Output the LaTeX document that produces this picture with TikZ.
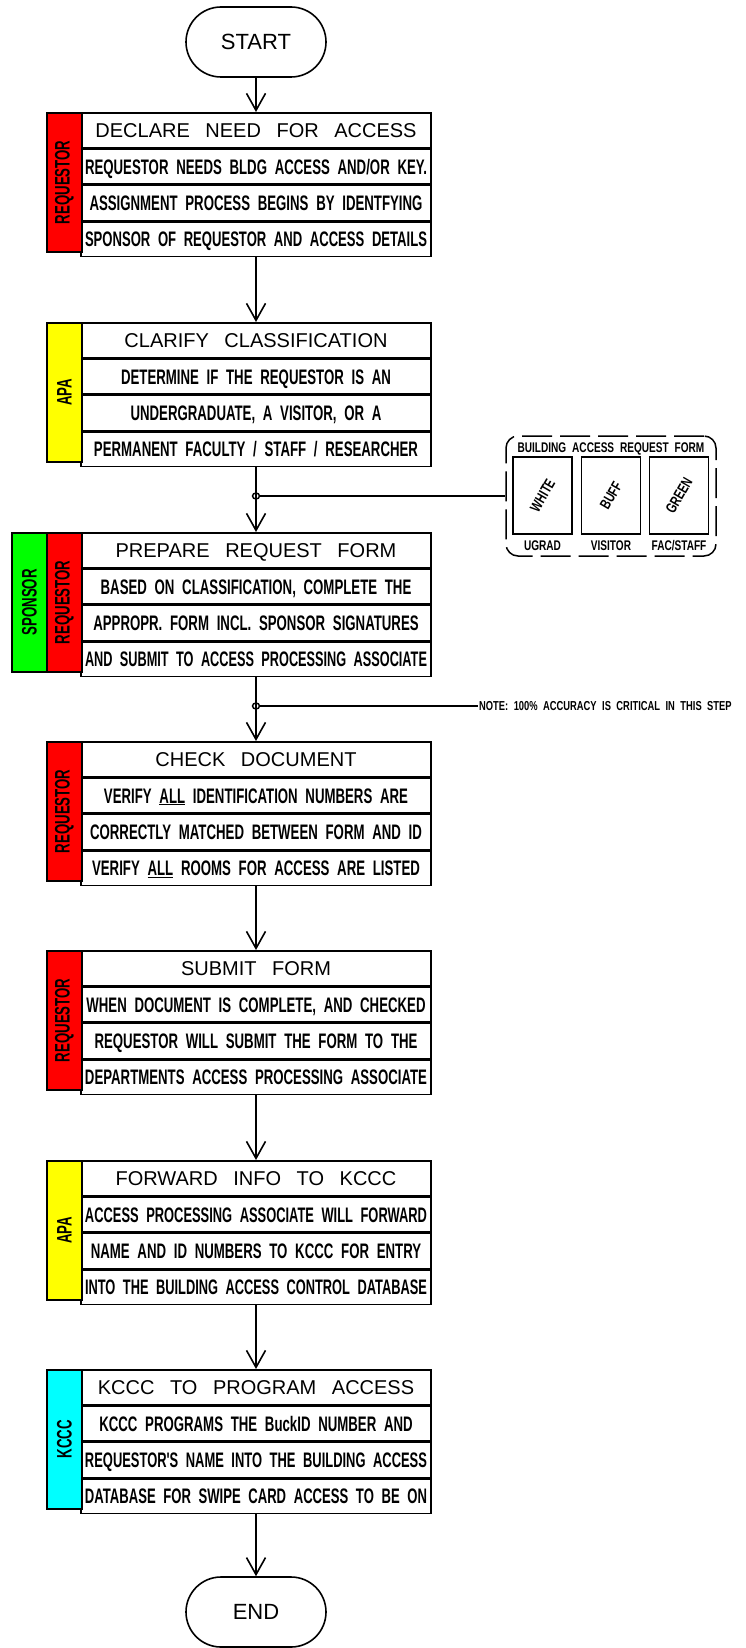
\documentclass[tikz,border=0pt]{standalone}
\usepackage{fontspec}
\usepackage{graphicx}
\setmainfont{Liberation Sans}
\newfontfamily\titlef[WordSpace=2.8]{Liberation Sans}
\newfontfamily\rowf[FakeStretch=0.63,WordSpace=2.1]{Liberation Sans}
\newfontfamily\smallfam[FakeStretch=0.72,WordSpace=2.1]{Liberation Sans}
\usetikzlibrary{arrows.meta,shapes.geometric}
\newsavebox\rowbx
\newcommand\rowtext[1]{\sbox\rowbx{#1}\ifdim\wd\rowbx>342pt\resizebox{342pt}{\height}{\usebox\rowbx}\else\usebox\rowbx\fi}
\definecolor{lred}{RGB}{255,0,0}
\definecolor{lyellow}{RGB}{255,255,0}
\definecolor{lgreen}{RGB}{0,255,0}
\definecolor{lcyan}{RGB}{0,255,255}
\tikzset{
 box/.style={draw, line width=1.6pt, inner sep=0pt},
 titlerow/.style={box, minimum width=350pt, minimum height=35pt, text height=14.3pt, text depth=0pt, font=\titlef\fontsize{20}{20}\selectfont},
 rowbox/.style={box, minimum width=350pt, minimum height=34.67pt, text height=15pt, text depth=0pt, font=\rowf\bfseries\fontsize{21}{21}\selectfont},
 lanebox/.style={box, minimum width=35pt, minimum height=139pt, font=\rowf\bfseries\fontsize{21}{21}\selectfont},
 term/.style={box, rounded corners=35pt, minimum width=140pt, minimum height=70pt, text height=15.5pt, text depth=0pt, font=\titlef\fontsize{22}{22}\selectfont},
 arr/.style={line width=1.6pt, -{Straight Barb[length=17pt,width=19pt]}},
 conn/.style={line width=1.6pt},
 papers/.style={box, minimum width=59pt, minimum height=77pt},
 smallf/.style={inner sep=1pt, text height=10pt, text depth=0pt, font=\smallfam\bfseries\fontsize{14}{14}\selectfont},
 notef/.style={inner sep=1pt, text height=9.5pt, text depth=0pt, font=\smallfam\bfseries\fontsize{13}{13}\selectfont},
 rotf/.style={inner sep=0pt, rotate=60, font=\smallfam\bfseries\fontsize{15}{15}\selectfont},
 junct/.style={draw, line width=1.4pt, ellipse, minimum width=7pt, minimum height=6pt, inner sep=0pt}
}
\newcommand\flowblock[6]{%
 \node[titlerow, anchor=north] (#1t) at (256,#2) {#3};
 \node[rowbox, anchor=north] (#1a) at (#1t.south) {\rowtext{#4}};
 \node[rowbox, anchor=north] (#1b) at (#1a.south) {\rowtext{#5}};
 \node[rowbox, anchor=north] (#1c) at (#1b.south) {\rowtext{#6}};
}
\newcommand\lane[5]{%
 \node[lanebox, fill=#4, anchor=north west] (#1) at (#2,#3) {\rotatebox{90}{#5}};
}
\begin{document}
\begin{tikzpicture}[x=1pt,y=-1pt]
\useasboundingbox (0,0) rectangle (746,1648);

\node[term] (start) at (256,42) {START};

\flowblock{b1}{112}{DECLARE NEED FOR ACCESS}{REQUESTOR NEEDS BLDG ACCESS AND/OR KEY.}{ASSIGNMENT PROCESS BEGINS BY IDENTFYING}{SPONSOR OF REQUESTOR AND ACCESS DETAILS}
\lane{l1}{46}{112}{lred}{REQUESTOR}

\flowblock{b2}{322}{CLARIFY CLASSIFICATION}{DETERMINE IF THE REQUESTOR IS AN}{UNDERGRADUATE, A VISITOR, OR A}{PERMANENT FACULTY / STAFF / RESEARCHER}
\lane{l2}{46}{322}{lyellow}{APA}

\flowblock{b3}{532}{PREPARE REQUEST FORM}{BASED ON CLASSIFICATION, COMPLETE THE}{APPROPR. FORM INCL. SPONSOR SIGNATURES}{AND SUBMIT TO ACCESS PROCESSING ASSOCIATE}
\lane{l3s}{11}{532}{lgreen}{SPONSOR}
\lane{l3}{46}{532}{lred}{REQUESTOR}

\flowblock{b4}{741}{CHECK DOCUMENT}{VERIFY \underline{ALL} IDENTIFICATION NUMBERS ARE}{CORRECTLY MATCHED BETWEEN FORM AND ID}{VERIFY \underline{ALL} ROOMS FOR ACCESS ARE LISTED}
\lane{l4}{46}{741}{lred}{REQUESTOR}

\flowblock{b5}{950}{SUBMIT FORM}{WHEN DOCUMENT IS COMPLETE, AND CHECKED}{REQUESTOR WILL SUBMIT THE FORM TO THE}{DEPARTMENTS ACCESS PROCESSING ASSOCIATE}
\lane{l5}{46}{950}{lred}{REQUESTOR}

\flowblock{b6}{1160}{FORWARD INFO TO KCCC}{ACCESS PROCESSING ASSOCIATE WILL FORWARD}{NAME AND ID NUMBERS TO KCCC FOR ENTRY}{INTO THE BUILDING ACCESS CONTROL DATABASE}
\lane{l6}{46}{1160}{lyellow}{APA}

\flowblock{b7}{1369}{KCCC TO PROGRAM ACCESS}{KCCC PROGRAMS THE BuckID NUMBER AND}{REQUESTOR'S NAME INTO THE BUILDING ACCESS}{DATABASE FOR SWIPE CARD ACCESS TO BE ON}
\lane{l7}{46}{1369}{lcyan}{KCCC}

\node[term] (end) at (256,1612) {END};

% form
\node[draw, line width=1.5pt, dash pattern=on 30pt off 8pt, rounded corners=12pt, minimum width=210pt, minimum height=120pt, inner sep=0pt] (form) at (611,496) {};
\node[smallf] (ftitle) at (611,447) {BUILDING ACCESS REQUEST FORM};
\node[papers] (pw) at (542.5,495.5) {};
\node[papers] (pb) at (611,495.5) {};
\node[papers] (pg) at (679,495.5) {};
\node[rotf] (tw) at (pw.center) {WHITE};
\node[rotf] (tb) at (pb.center) {BUFF};
\node[rotf] (tg) at (pg.center) {GREEN};
\node[smallf] (uw) at (542.5,545) {UGRAD};
\node[smallf] (ub) at (611,545) {VISITOR};
\node[smallf] (ug) at (679,545) {FAC/STAFF};

% junctions
\node[junct] (j1) at (256,496) {};
\node[junct] (j2) at (256,706) {};
\node[notef, anchor=west] (note) at (478,706) {NOTE: 100\% ACCURACY IS CRITICAL IN THIS STEP};

% connectors
\draw[arr] (start) -- (b1t);
\draw[arr] (b1c) -- (b2t);
\draw[arr] (b2c) -- (b3t);
\draw[arr] (b3c) -- (b4t);
\draw[arr] (b4c) -- (b5t);
\draw[arr] (b5c) -- (b6t);
\draw[arr] (b6c) -- (b7t);
\draw[arr] (b7c) -- (end);
\draw[conn] (j1.east) -- (form.west);
\draw[conn] (j2.east) -- (note.west);
\end{tikzpicture}
\end{document}
